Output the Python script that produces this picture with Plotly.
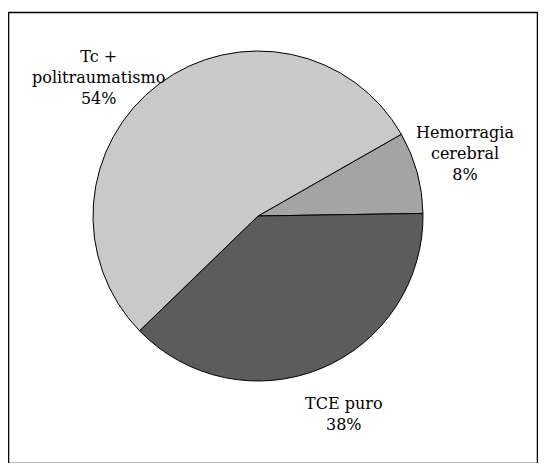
import plotly.graph_objects as go

labels = ["Hemorragia<br>cerebral", "TCE puro", "Tc +<br>politraumatismo"]
values = [8, 38, 54]
colors = ["#a4a4a4", "#5c5c5c", "#c9c9c9"]

# page has an 8px body margin, so the figure is drawn 8px in from the corner
OFF = 8
W, H = 546 - 2 * OFF, 471 - 2 * OFF

# where each label sits (page pixels, x / y from top)
label_pos = [(465, 153), (344, 414), (98, 77)]

SERIF = "DejaVu Serif"


def px_x(x):
    return (x - OFF) / W


def px_y(y):
    return 1 - (y - OFF) / H


fig = go.Figure(go.Pie(
    labels=labels,
    values=values,
    sort=False,
    direction="clockwise",
    rotation=60.3,
    marker=dict(colors=colors, line=dict(color="black", width=1)),
    textinfo="none",
    hoverinfo="label+percent",
    domain=dict(x=[px_x(93), px_x(423)], y=[px_y(381), px_y(51)]),
    showlegend=False,
))

for lab, val, (x, y) in zip(labels, values, label_pos):
    fig.add_annotation(
        x=px_x(x), y=px_y(y), xref="paper", yref="paper",
        text=f"{lab}<br>{val}%", showarrow=False,
        font=dict(family=SERIF, size=16, color="black"),
        align="center", xanchor="center", yanchor="middle",
    )

fig.add_shape(type="rect", xref="paper", yref="paper",
              x0=px_x(8.5), x1=px_x(537.5), y0=px_y(463.5), y1=px_y(12.5),
              line=dict(color="black", width=1.5))

fig.update_layout(
    width=W, height=H,
    margin=dict(l=0, r=0, t=0, b=0),
    font=dict(family=SERIF),
    paper_bgcolor="white", plot_bgcolor="white",
)

fig.write_html("out.html")
